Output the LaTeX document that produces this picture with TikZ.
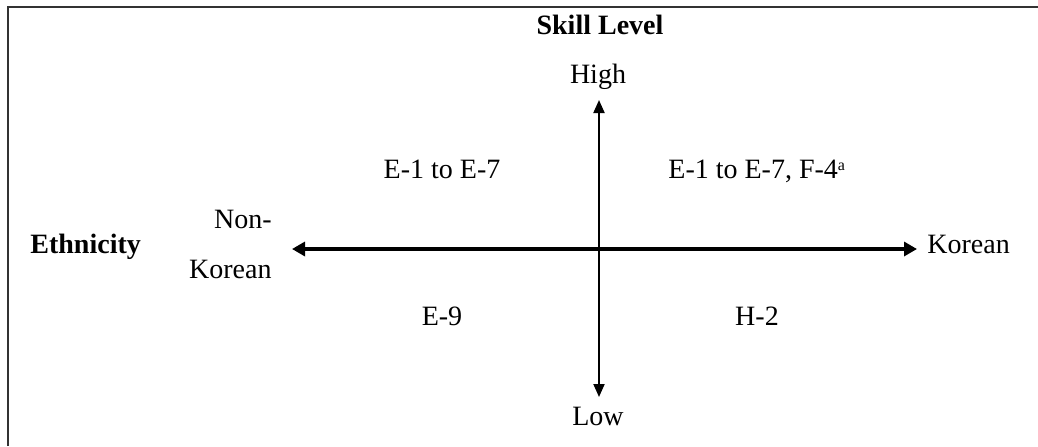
\documentclass[tikz,border=0pt]{standalone}
\usepackage{fontspec}
\setmainfont{Liberation Serif}
\usetikzlibrary{arrows.meta}
\begin{document}
\begin{tikzpicture}[x=0.5pt,y=-0.5pt,
  lbl/.style={inner sep=0pt,anchor=base,font=\fontsize{14}{16}\selectfont},
  blbl/.style={lbl,font=\fontsize{14}{16}\selectfont\bfseries},
  axis/.style={line width=#1,{Triangle[length=7pt,width=7pt]}-{Triangle[length=7pt,width=7pt]}}]
\useasboundingbox (0,0) rectangle (1038,446);
\draw[line width=1.1pt,black!80] (8,446) -- (8,7) -- (1040,7);
% axis ends
\coordinate (top) at (599,100);
\coordinate (bot) at (599,397);
\coordinate (lft) at (292,249);
\coordinate (rgt) at (917,249);
\draw[line width=1pt,{Triangle[length=6.5pt,width=5.5pt]}-{Triangle[length=6.5pt,width=5.5pt]}] (top) -- (bot);
\draw[line width=1.6pt,{Triangle[length=6.5pt,width=7pt]}-{Triangle[length=6.5pt,width=7pt]}] (lft) -- (rgt);
% labels
\node[blbl] (skill) at (600,34) {Skill Level};
\node[lbl] (high) at (598,83) {High};
\node[lbl] (low) at (598,425) {Low};
\node[blbl,anchor=base west] (eth) at (30,253) {Ethnicity};
\node[lbl,anchor=base west] (kor) at (927,253) {Korean};
\node[lbl,anchor=base east] (non) at (272,228) {Non-};
\node[lbl,anchor=base east] (nkor) at (272,278) {Korean};
\node[lbl] (q2) at (442,178) {E-1 to E-7};
\node[lbl,anchor=base west] (q1) at (668,178) {E-1 to E-7, F-4\raisebox{0.55ex}{\fontsize{8}{9}\selectfont a}};
\node[lbl] (q3) at (442,325) {E-9};
\node[lbl] (q4) at (757,325) {H-2};
\end{tikzpicture}
\end{document}
